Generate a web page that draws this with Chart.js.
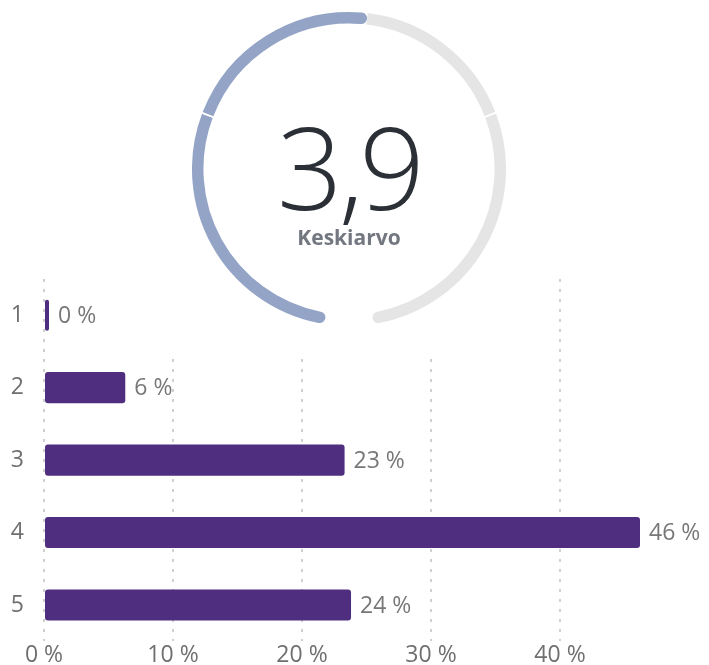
<!DOCTYPE html>
<html>
<head>
<meta charset="utf-8">
<script src="https://cdn.jsdelivr.net/npm/chart.js@4/dist/chart.umd.min.js"></script>
<style>
  html, body { margin: 0; padding: 0; background: #fff; }
  #wrap { position: relative; width: 709px; height: 665px; overflow: hidden; font-family: "Open Sans", sans-serif; }
  #barBox { position: absolute; left: 0; top: 0; width: 709px; height: 675px; }
  #gaugeBg { position: absolute; left: 150px; top: 0; width: 400px; height: 352px; background: #fff; }
  #gaugeBox { position: absolute; left: 192px; top: 11px; width: 314px; height: 314px; }
  #avg { position: absolute; left: 199px; width: 300px; top: 108px; text-align: center; font-size: 115px; line-height: 1; font-weight: 300; color: #2b2f36; letter-spacing: -4px; }
  #avgLabel { position: absolute; left: 199px; width: 300px; top: 225px; text-align: center; font-size: 21px; line-height: 1.2; font-weight: 700; color: #737780; }
</style>
</head>
<body>
<div id="wrap">
  <div id="barBox"><canvas id="bars"></canvas></div>
  <div id="gaugeBg"></div>
  <div id="gaugeBox"><canvas id="gauge"></canvas></div>
  <div id="avg">3,9</div>
  <div id="avgLabel">Keskiarvo</div>
</div>
<script>
// answer distribution (share of answers, %)
const categories = ['1', '2', '3', '4', '5'];
const shares = [0, 6.3, 23.3, 46.2, 23.8];
const xTicks = [0, 10, 20, 30, 40];

// gauge track pieces (% of the arc): blue part, separator, blue part, grey part, separator, grey part
const gaugeParts = [29.7, 0.2, 22.1, 18.1, 0.2, 29.7];
const gaugeColors = ['#94a4c6', '#ffffff', '#94a4c6', '#e5e5e5', '#ffffff', '#e5e5e5'];

const labelFont = { family: '"Open Sans", sans-serif', size: 23 };

const valueLabels = {
  id: 'valueLabels',
  afterDatasetsDraw(chart) {
    const ctx = chart.ctx;
    const meta = chart.getDatasetMeta(0);
    ctx.save();
    ctx.font = '23px "Open Sans", sans-serif';
    ctx.fillStyle = '#777';
    ctx.textAlign = 'left';
    ctx.textBaseline = 'middle';
    meta.data.forEach((bar, i) => {
      ctx.fillText(Math.round(shares[i]) + ' %', bar.x + 9, bar.y + 1);
    });
    ctx.restore();
  }
};

new Chart(document.getElementById('bars'), {
  type: 'bar',
  data: {
    labels: categories,
    datasets: [{
      data: shares,
      backgroundColor: '#4f2e80',
      borderRadius: 3,
      borderSkipped: false,
      minBarLength: 5,
      barPercentage: 0.43,
      categoryPercentage: 1
    }]
  },
  options: {
    indexAxis: 'y',
    responsive: true,
    maintainAspectRatio: false,
    animation: false,
    events: [],
    layout: { padding: { top: 279, right: 69, left: 0, bottom: 0 } },
    plugins: { legend: { display: false }, tooltip: { enabled: false } },
    scales: {
      x: {
        min: 0,
        max: Math.max(...shares),
        afterFit: (scale) => { scale.height = 25; },
        afterBuildTicks: (scale) => { scale.ticks = xTicks.map(v => ({ value: v })); },
        grid: { color: '#d0d0d0', lineWidth: 2, drawTicks: false },
        border: { display: false, dash: [3, 7] },
        ticks: {
          padding: 0,
          color: '#6f6f6f',
          font: labelFont,
          callback: (v) => v + ' %'
        }
      },
      y: {
        afterFit: (scale) => { scale.width = 44; },
        grid: { display: false, drawTicks: false },
        border: { display: false },
        ticks: { padding: 20, color: '#6f6f6f', font: labelFont }
      }
    }
  },
  plugins: [valueLabels]
});

const lastIdx = gaugeParts.length - 1;
new Chart(document.getElementById('gauge'), {
  type: 'doughnut',
  data: {
    datasets: [{
      data: gaugeParts,
      backgroundColor: gaugeColors,
      borderWidth: 0,
      hoverOffset: 0,
      borderRadius: (c) => {
        if (c.dataIndex === 0) return { outerStart: 6, innerStart: 6, outerEnd: 0, innerEnd: 0 };
        if (c.dataIndex === 2 || c.dataIndex === lastIdx) return { outerStart: 0, innerStart: 0, outerEnd: 6, innerEnd: 6 };
        return 0;
      }
    }]
  },
  options: {
    responsive: true,
    maintainAspectRatio: false,
    animation: false,
    events: [],
    rotation: -171,
    circumference: 342,
    cutout: '92.7%',
    plugins: { legend: { display: false }, tooltip: { enabled: false } }
  }
});
</script>
</body>
</html>
